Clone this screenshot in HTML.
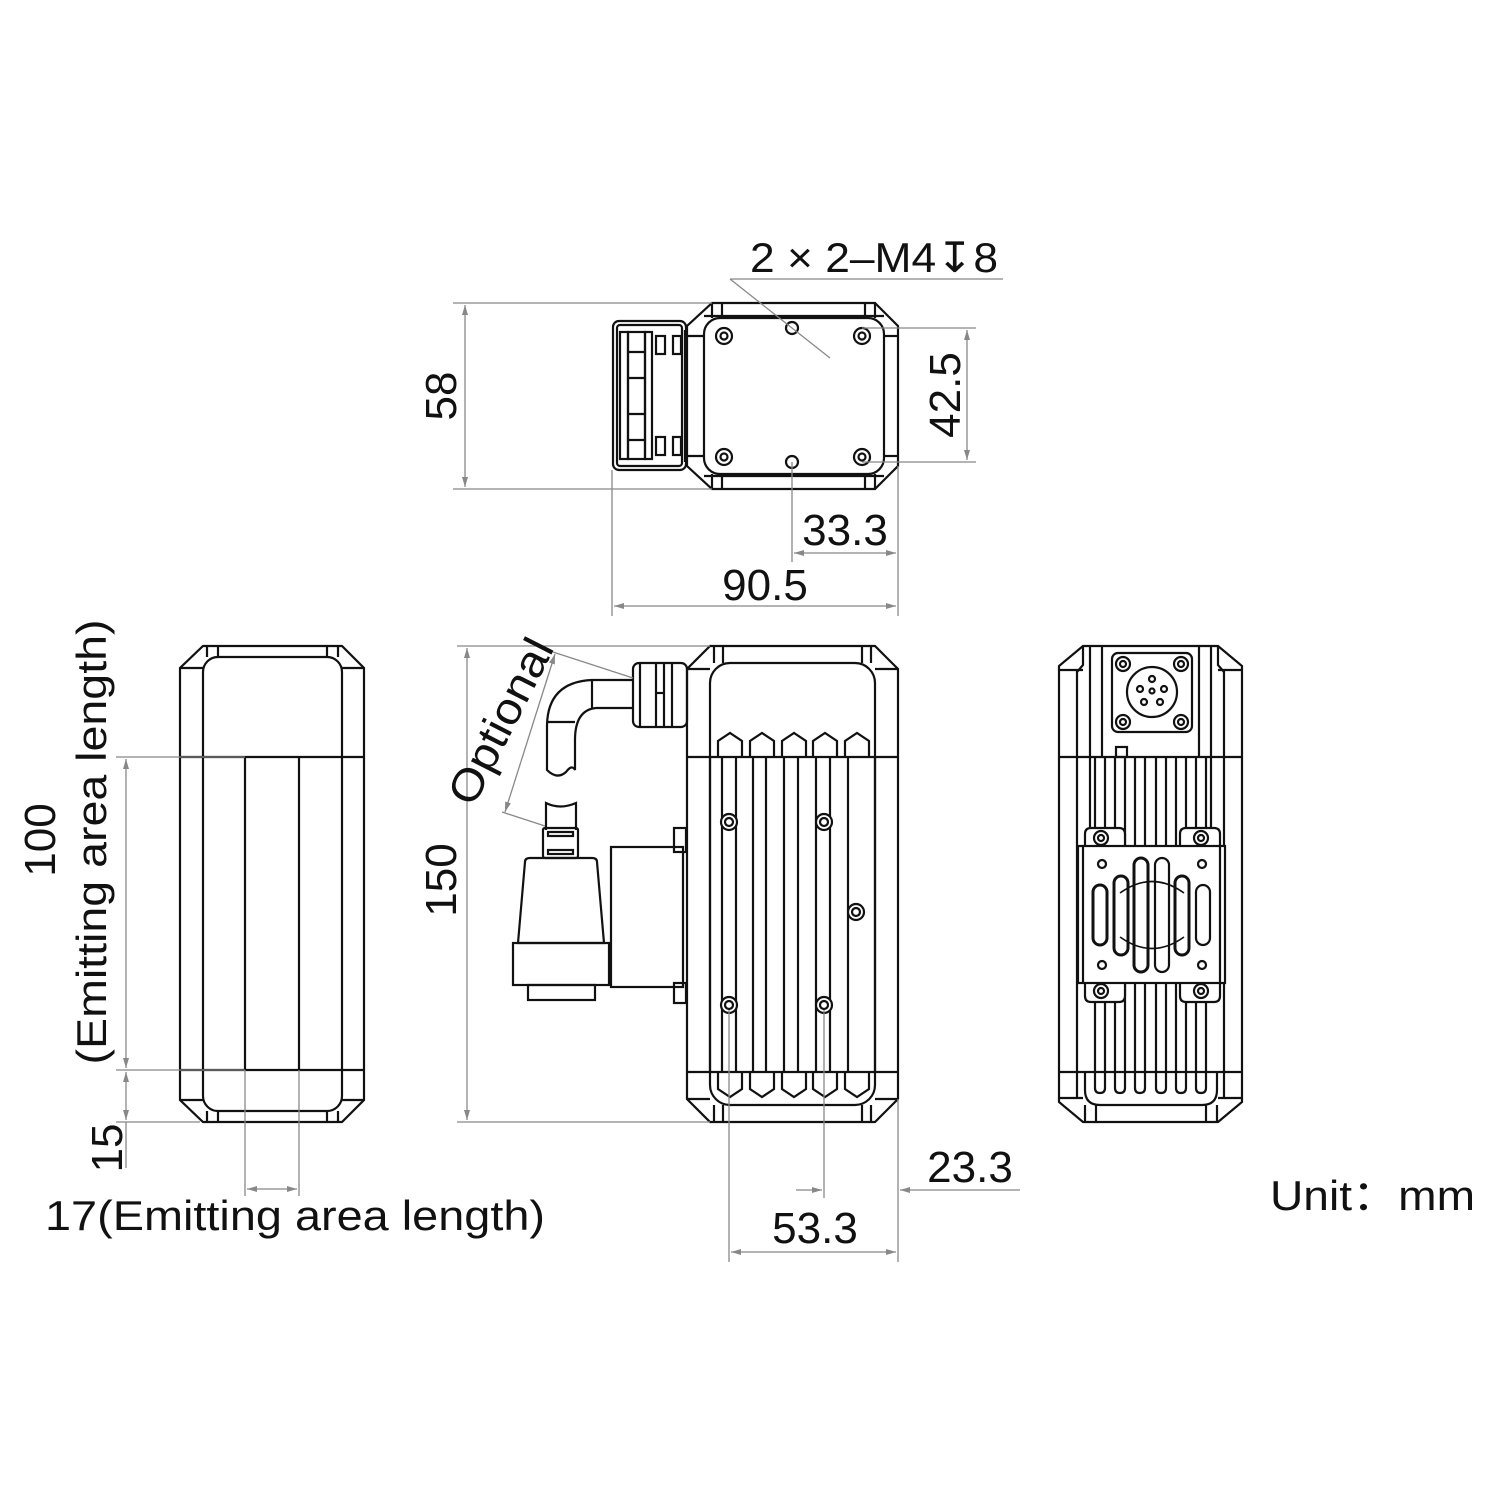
<!DOCTYPE html>
<html><head><meta charset="utf-8"><style>
html,body{margin:0;padding:0;background:#fff}
svg{display:block}
text{font-family:"Liberation Sans",sans-serif;fill:#111}
</style></head><body>
<svg width="1500" height="1500" viewBox="0 0 1500 1500" xmlns="http://www.w3.org/2000/svg">
<defs>
<marker id="a" viewBox="0 0 10 6" refX="10" refY="3" markerWidth="10" markerHeight="6" orient="auto-start-reverse" markerUnits="userSpaceOnUse"><path d="M0,0 L10,3 L0,6 z" fill="#888"/></marker>
</defs>
<rect width="1500" height="1500" fill="#fff"/>

<!-- ============ TOP VIEW ============ -->
<g fill="none" stroke="#111" stroke-width="2.2">
<polygon points="712,303 875,303 898,326 898,466 875,489 712,489 687,466 687,326"/>
<rect x="704" y="318" width="180" height="156" rx="16"/>
<line x1="704" y1="316" x2="884" y2="316"/><line x1="704" y1="476" x2="884" y2="476"/>
<line x1="712" y1="303" x2="712" y2="318"/><line x1="722" y1="303" x2="722" y2="318"/>
<line x1="865" y1="303" x2="865" y2="318"/><line x1="875" y1="303" x2="875" y2="318"/>
<line x1="712" y1="474" x2="712" y2="489"/><line x1="722" y1="474" x2="722" y2="489"/>
<line x1="865" y1="474" x2="865" y2="489"/><line x1="875" y1="474" x2="875" y2="489"/>
<line x1="687" y1="336" x2="704" y2="336"/><line x1="687" y1="456" x2="704" y2="456"/>
<line x1="884" y1="336" x2="898" y2="336"/><line x1="884" y1="456" x2="898" y2="456"/>
<circle cx="724" cy="336" r="8"/><circle cx="724" cy="336" r="3.5"/>
<circle cx="862" cy="336" r="8"/><circle cx="862" cy="336" r="3.5"/>
<circle cx="724" cy="457" r="8"/><circle cx="724" cy="457" r="3.5"/>
<circle cx="862" cy="457" r="8"/><circle cx="862" cy="457" r="3.5"/>
<circle cx="792" cy="328" r="6"/><circle cx="792" cy="462" r="6"/>
<rect x="613" y="321" width="73" height="149" rx="6"/>
<rect x="617" y="325" width="65" height="141" rx="3"/>
<rect x="620" y="332" width="8" height="127"/><rect x="628" y="332" width="17" height="127"/>
<rect x="645" y="332" width="7" height="127"/>
<line x1="628" y1="352" x2="645" y2="352"/><line x1="628" y1="378" x2="645" y2="378"/>
<line x1="628" y1="414" x2="645" y2="414"/><line x1="628" y1="440" x2="645" y2="440"/>
<rect x="656" y="336" width="9" height="18"/><rect x="673" y="336" width="8" height="18"/>
<rect x="656" y="437" width="9" height="18"/><rect x="673" y="437" width="8" height="18"/>
<line x1="685" y1="330" x2="685" y2="462"/>
</g>
<!-- top view dims -->
<g stroke="#888" stroke-width="1.3" fill="none">
<line x1="453" y1="303" x2="712" y2="303"/><line x1="453" y1="489" x2="712" y2="489"/>
<line x1="465" y1="305" x2="465" y2="487" marker-start="url(#a)" marker-end="url(#a)"/>
<line x1="862" y1="328" x2="976" y2="328"/><line x1="862" y1="462" x2="976" y2="462"/>
<line x1="967" y1="330" x2="967" y2="460" marker-start="url(#a)" marker-end="url(#a)"/>
<line x1="792" y1="462" x2="792" y2="562"/>
<line x1="898" y1="466" x2="898" y2="616"/><line x1="612" y1="470" x2="612" y2="616"/>
<line x1="794" y1="553" x2="896" y2="553" marker-start="url(#a)" marker-end="url(#a)"/>
<line x1="614" y1="606" x2="896" y2="606" marker-start="url(#a)" marker-end="url(#a)"/>
<line x1="730" y1="279" x2="1003" y2="279"/>
<line x1="730" y1="279" x2="830" y2="358"/>
</g>
<text x="750" y="272" font-size="42" textLength="248" lengthAdjust="spacingAndGlyphs">2 × 2–M4↧8</text>
<text transform="translate(456,396) rotate(-90)" font-size="44" text-anchor="middle">58</text>
<text transform="translate(960,395) rotate(-90)" font-size="44" text-anchor="middle">42.5</text>
<text x="845" y="545" font-size="44" text-anchor="middle">33.3</text>
<text x="765" y="600" font-size="44" text-anchor="middle">90.5</text>

<!-- ============ LEFT VIEW ============ -->
<g fill="none" stroke="#111" stroke-width="2.2">
<polygon points="203,646 342,646 364,668 364,1100 342,1122 203,1122 180,1100 180,668"/>
<rect x="203" y="657" width="139" height="454" rx="15"/>
<line x1="180" y1="668" x2="203" y2="668"/><line x1="342" y1="668" x2="364" y2="668"/>
<line x1="180" y1="1100" x2="203" y2="1100"/><line x1="342" y1="1100" x2="364" y2="1100"/>
<line x1="207" y1="646" x2="207" y2="657"/><line x1="218" y1="646" x2="218" y2="657"/>
<line x1="327" y1="646" x2="327" y2="657"/><line x1="338" y1="646" x2="338" y2="657"/>
<line x1="207" y1="1111" x2="207" y2="1122"/><line x1="218" y1="1111" x2="218" y2="1122"/>
<line x1="327" y1="1111" x2="327" y2="1122"/><line x1="338" y1="1111" x2="338" y2="1122"/>
<line x1="180" y1="757" x2="364" y2="757"/><line x1="180" y1="1070" x2="364" y2="1070"/>
<line x1="245" y1="757" x2="245" y2="1070"/><line x1="299" y1="757" x2="299" y2="1070"/>
</g>
<g stroke="#888" stroke-width="1.3" fill="none">
<line x1="116" y1="757" x2="245" y2="757"/><line x1="116" y1="1070" x2="245" y2="1070"/>
<line x1="116" y1="1122" x2="200" y2="1122"/>
<line x1="126" y1="759" x2="126" y2="1068" marker-start="url(#a)" marker-end="url(#a)"/>
<line x1="126" y1="1072" x2="126" y2="1120" marker-start="url(#a)" marker-end="url(#a)"/>
<line x1="126" y1="1122" x2="126" y2="1168"/>
<line x1="245" y1="1070" x2="245" y2="1196"/><line x1="299" y1="1070" x2="299" y2="1196"/>
<line x1="247" y1="1189" x2="297" y2="1189" marker-start="url(#a)" marker-end="url(#a)"/>
</g>
<text transform="translate(55,840) rotate(-90)" font-size="44" text-anchor="middle">100</text>
<text transform="translate(106,842) rotate(-90)" font-size="42" text-anchor="middle" textLength="445" lengthAdjust="spacingAndGlyphs">(Emitting area length)</text>
<text transform="translate(122,1148) rotate(-90)" font-size="44" text-anchor="middle">15</text>
<text x="45" y="1230" font-size="42" textLength="500" lengthAdjust="spacingAndGlyphs">17(Emitting area length)</text>

<!-- ============ FRONT VIEW ============ -->
<g fill="none" stroke="#111" stroke-width="2.2">
<polygon points="710,646 875,646 898,669 898,1099 875,1122 710,1122 687,1099 687,669"/>
<rect x="710" y="663" width="165" height="442" rx="20"/>
<line x1="687" y1="669" x2="710" y2="669"/><line x1="875" y1="669" x2="898" y2="669"/>
<line x1="687" y1="1099" x2="710" y2="1099"/><line x1="875" y1="1099" x2="898" y2="1099"/>
<line x1="714" y1="646" x2="714" y2="663"/><line x1="723" y1="646" x2="723" y2="663"/>
<line x1="862" y1="646" x2="862" y2="663"/><line x1="871" y1="646" x2="871" y2="663"/>
<line x1="714" y1="1105" x2="714" y2="1122"/><line x1="723" y1="1105" x2="723" y2="1122"/>
<line x1="862" y1="1105" x2="862" y2="1122"/><line x1="871" y1="1105" x2="871" y2="1122"/>
<line x1="687" y1="757" x2="898" y2="757"/><line x1="687" y1="1072" x2="898" y2="1072"/>
<path d="M718,757 V741 L730,733 L742,741 V757"/>
<path d="M750,757 V741 L762,733 L774,741 V757"/>
<path d="M782,757 V741 L794,733 L806,741 V757"/>
<path d="M813,757 V741 L825,733 L837,741 V757"/>
<path d="M845,757 V741 L857,733 L869,741 V757"/>
<path d="M718,1072 V1089 L730,1097 L742,1089 V1072"/>
<path d="M750,1072 V1089 L762,1097 L774,1089 V1072"/>
<path d="M782,1072 V1089 L794,1097 L806,1089 V1072"/>
<path d="M813,1072 V1089 L825,1097 L837,1089 V1072"/>
<path d="M845,1072 V1089 L857,1097 L869,1089 V1072"/>
<g>
<line x1="710" y1="757" x2="710" y2="1072"/>
<line x1="722" y1="757" x2="722" y2="1072"/><line x1="736" y1="757" x2="736" y2="1072"/>
<line x1="753" y1="757" x2="753" y2="1072"/><line x1="766" y1="757" x2="766" y2="1072"/>
<line x1="784" y1="757" x2="784" y2="1072"/><line x1="798" y1="757" x2="798" y2="1072"/>
<line x1="816" y1="757" x2="816" y2="1072"/><line x1="830" y1="757" x2="830" y2="1072"/>
<line x1="848" y1="757" x2="848" y2="1072"/><line x1="875" y1="757" x2="875" y2="1072"/>
</g>
<g fill="#fff">
<circle cx="729" cy="822" r="8"/><circle cx="824" cy="822" r="8"/>
<circle cx="729" cy="1005" r="8"/><circle cx="824" cy="1005" r="8"/>
<circle cx="856" cy="912" r="8"/>
</g>
<circle cx="729" cy="822" r="4"/><circle cx="824" cy="822" r="4"/>
<circle cx="729" cy="1005" r="4"/><circle cx="824" cy="1005" r="4"/>
<circle cx="856" cy="912" r="4"/>
<rect x="633" y="663" width="54" height="64" rx="6"/>
<line x1="640" y1="663" x2="640" y2="727"/><line x1="656" y1="663" x2="656" y2="727"/>
<line x1="664" y1="663" x2="664" y2="727"/><line x1="672" y1="663" x2="672" y2="727"/>
<line x1="656" y1="693" x2="664" y2="693"/>
<path d="M633,680 H592 Q548,682 547,725 V770 Q557,780 566,772 Q572,764 575,770 V740 Q575,710 596,708 H633"/>
<line x1="592" y1="680" x2="592" y2="708"/>
<line x1="547" y1="722" x2="575" y2="722"/>
<path d="M546,830 V803 Q560,810 576,803 V830"/>
<rect x="543" y="828" width="35" height="30" rx="2"/>
<rect x="548" y="832" width="25" height="4"/><rect x="548" y="850" width="25" height="4"/>
<path d="M525,862 Q525,858 530,858 H592 Q597,858 597,862 L604,943 H518 Z"/>
<rect x="513" y="943" width="96" height="42"/>
<rect x="528" y="985" width="67" height="15"/>
<rect x="611" y="847" width="72" height="140"/>
<rect x="674" y="828" width="12" height="24"/><rect x="674" y="983" width="12" height="20"/>
</g>
<g stroke="#888" stroke-width="1.3" fill="none">
<line x1="457" y1="646" x2="710" y2="646"/><line x1="457" y1="1122" x2="710" y2="1122"/>
<line x1="467" y1="648" x2="467" y2="1120" marker-start="url(#a)" marker-end="url(#a)"/>
<line x1="505" y1="812" x2="555" y2="654" marker-start="url(#a)" marker-end="url(#a)"/>
<line x1="502" y1="812" x2="545" y2="826"/><line x1="553" y1="652" x2="633" y2="678"/>
<line x1="729" y1="1010" x2="729" y2="1262"/>
<line x1="824" y1="1010" x2="824" y2="1198"/>
<line x1="898" y1="1099" x2="898" y2="1262"/>
<line x1="796" y1="1190" x2="822" y2="1190" marker-end="url(#a)"/>
<line x1="1020" y1="1190" x2="900" y2="1190" marker-end="url(#a)"/>
<line x1="731" y1="1252" x2="896" y2="1252" marker-start="url(#a)" marker-end="url(#a)"/>
</g>
<text transform="translate(514,728) rotate(-63)" font-size="44" text-anchor="middle" textLength="180" lengthAdjust="spacingAndGlyphs">Optional</text>
<text transform="translate(456,880) rotate(-90)" font-size="44" text-anchor="middle">150</text>
<text x="970" y="1182" font-size="44" text-anchor="middle">23.3</text>
<text x="815" y="1243" font-size="44" text-anchor="middle">53.3</text>
<text x="1270" y="1210" font-size="42" textLength="205" lengthAdjust="spacingAndGlyphs">Unit：mm</text>

<!-- ============ BACK VIEW ============ -->
<g fill="none" stroke="#111" stroke-width="2.2">
<polygon points="1083,646 1218,646 1242,666 1242,1102 1218,1122 1083,1122 1059,1102 1059,666"/>
<line x1="1059" y1="670" x2="1083" y2="670"/><line x1="1218" y1="670" x2="1242" y2="670"/>
<line x1="1059" y1="1098" x2="1083" y2="1098"/><line x1="1218" y1="1098" x2="1242" y2="1098"/>
<line x1="1077" y1="670" x2="1077" y2="1098"/><line x1="1224" y1="670" x2="1224" y2="1098"/>
<path d="M1083,646 V665 L1077,672"/><path d="M1218,646 V665 L1224,672"/>
<line x1="1090" y1="646" x2="1090" y2="828"/><line x1="1102" y1="646" x2="1102" y2="757"/>
<line x1="1199" y1="646" x2="1199" y2="757"/><line x1="1211" y1="646" x2="1211" y2="828"/>
<rect x="1112" y="653" width="80" height="79" rx="6"/>
<circle cx="1123" cy="664" r="7"/><circle cx="1123" cy="664" r="3"/>
<circle cx="1181" cy="664" r="7"/><circle cx="1181" cy="664" r="3"/>
<circle cx="1123" cy="722" r="7"/><circle cx="1123" cy="722" r="3"/>
<circle cx="1181" cy="722" r="7"/><circle cx="1181" cy="722" r="3"/>
<circle cx="1152" cy="692" r="25"/>
<circle cx="1152" cy="679" r="3"/><circle cx="1140" cy="689" r="3"/><circle cx="1164" cy="689" r="3"/>
<circle cx="1152" cy="691" r="2.5"/><circle cx="1144" cy="702" r="3"/><circle cx="1160" cy="702" r="3"/>
<rect x="1116" y="747" width="11" height="10"/>
<line x1="1059" y1="757" x2="1242" y2="757"/>
<line x1="1059" y1="1072" x2="1242" y2="1072"/>
<path d="M1085,1072 V1090 Q1085,1105 1100,1105 H1202 Q1217,1105 1217,1090 V1072"/>
<line x1="1085" y1="1105" x2="1085" y2="1122"/><line x1="1096" y1="1105" x2="1096" y2="1122"/>
<line x1="1206" y1="1105" x2="1206" y2="1122"/><line x1="1217" y1="1105" x2="1217" y2="1122"/>
<path d="M1095,757 V1088 Q1095,1093 1100,1093 Q1105,1093 1105,1088 V757"/>
<path d="M1115,757 V1088 Q1115,1093 1120,1093 Q1125,1093 1125,1088 V757"/>
<path d="M1135,757 V1088 Q1135,1093 1140,1093 Q1145,1093 1145,1088 V757"/>
<path d="M1156,757 V1088 Q1156,1093 1161,1093 Q1166,1093 1166,1088 V757"/>
<path d="M1176,757 V1088 Q1176,1093 1181,1093 Q1186,1093 1186,1088 V757"/>
<path d="M1196,757 V1088 Q1196,1093 1201,1093 Q1206,1093 1206,1088 V757"/>
<path d="M1085,848 V834 Q1085,828 1091,828 H1119 Q1125,828 1125,834 V848" fill="#fff"/>
<path d="M1180,848 V834 Q1180,828 1186,828 H1214 Q1220,828 1220,834 V848" fill="#fff"/>
<path d="M1085,983 V996 Q1085,1002 1091,1002 H1119 Q1125,1002 1125,996 V983" fill="#fff"/>
<path d="M1180,983 V996 Q1180,1002 1186,1002 H1214 Q1220,1002 1220,996 V983" fill="#fff"/>
<rect x="1078" y="846" width="147" height="137" fill="#fff"/>
<line x1="1083" y1="846" x2="1083" y2="983"/><line x1="1220" y1="846" x2="1220" y2="983"/>
<circle cx="1101" cy="838" r="7"/><circle cx="1101" cy="838" r="3"/>
<circle cx="1201" cy="838" r="7"/><circle cx="1201" cy="838" r="3"/>
<circle cx="1101" cy="991" r="7"/><circle cx="1101" cy="991" r="3"/>
<circle cx="1201" cy="991" r="7"/><circle cx="1201" cy="991" r="3"/>
<circle cx="1102" cy="864" r="4"/><circle cx="1202" cy="864" r="4"/>
<circle cx="1102" cy="965" r="4"/><circle cx="1202" cy="965" r="4"/>
<rect x="1093" y="885" width="14" height="60" rx="7" stroke-width="3"/>
<rect x="1114" y="876" width="14" height="79" rx="7" stroke-width="3"/>
<rect x="1134" y="858" width="14" height="114" rx="7" stroke-width="3"/>
<rect x="1155" y="858" width="14" height="114" rx="7"/>
<rect x="1175" y="876" width="14" height="79" rx="7" stroke-width="3"/>
<rect x="1196" y="885" width="14" height="60" rx="7"/>
<path d="M1120,893 Q1152,870 1184,893 M1120,937 Q1152,960 1184,937" stroke-width="1.6"/>
</g>
</svg>
</body></html>
